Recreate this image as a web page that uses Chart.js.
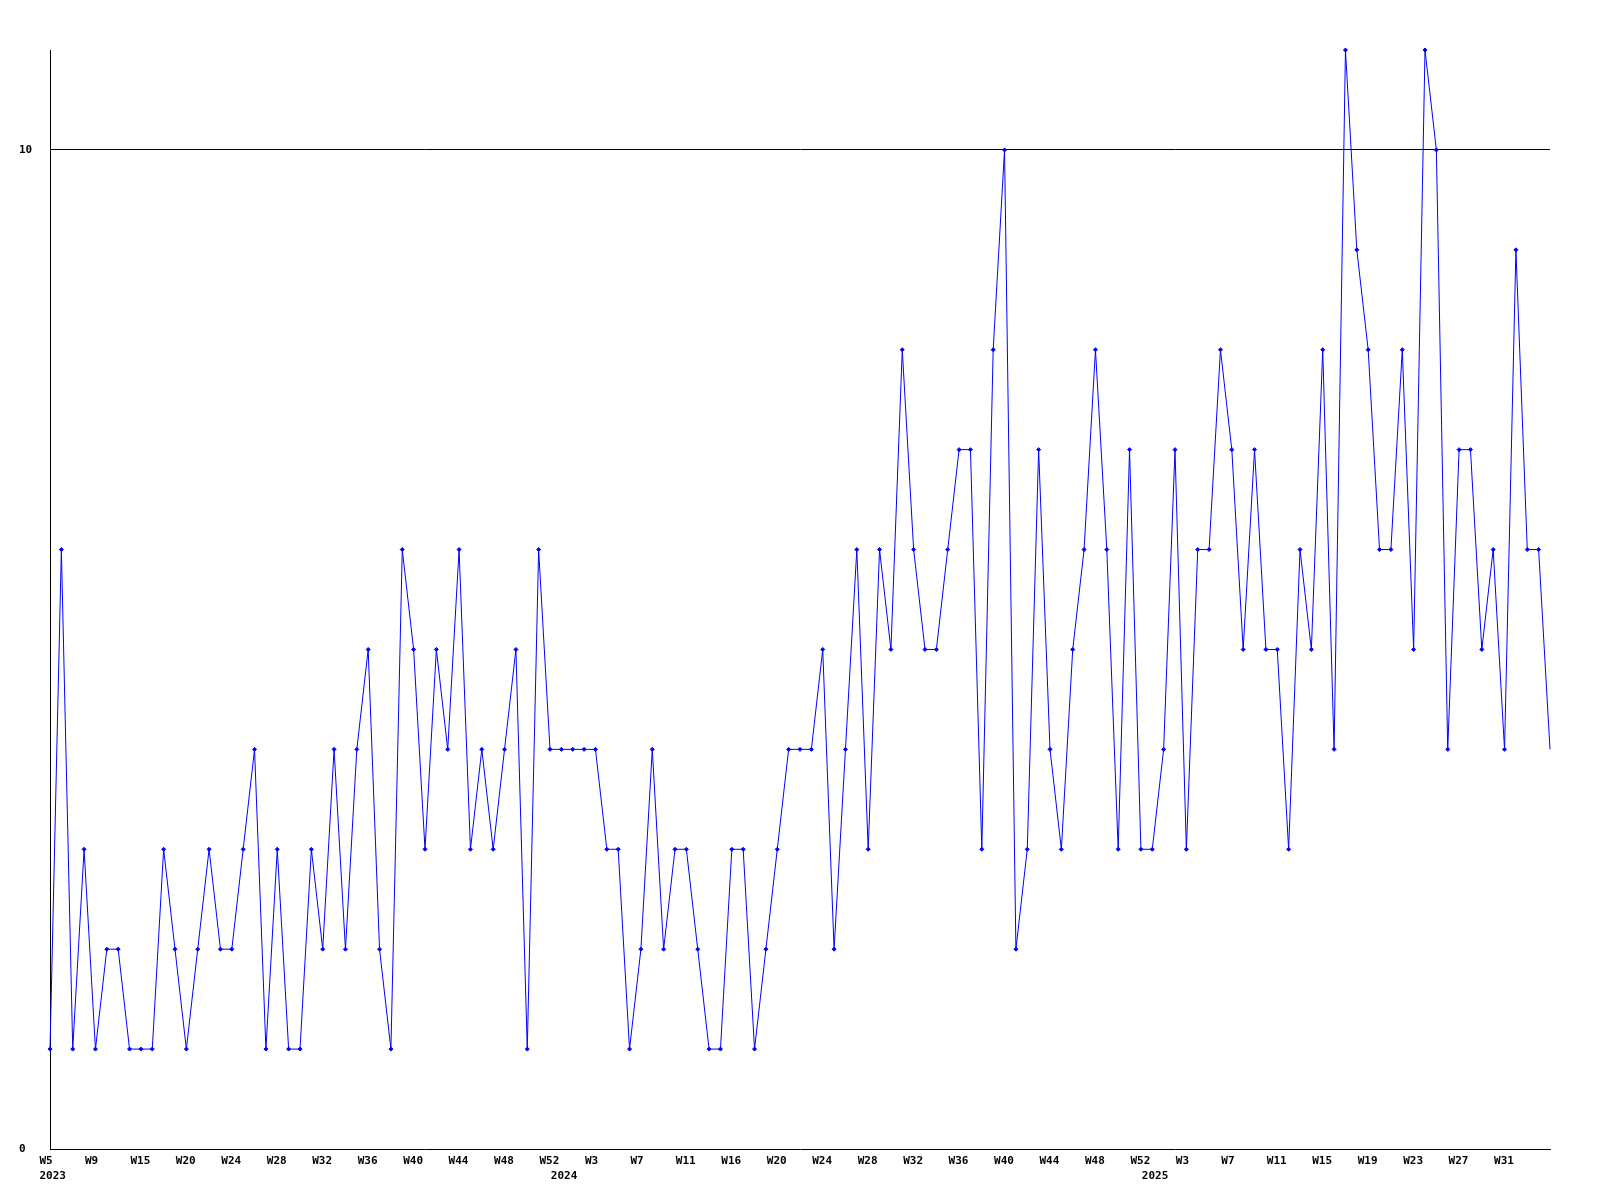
<!DOCTYPE html>
<html>
<head>
<meta charset="utf-8">
<script src="https://cdn.jsdelivr.net/npm/chart.js@4/dist/chart.umd.min.js"></script>
<style>
  html, body { margin: 0; padding: 0; background: #fff; }
  #wrap { width: 1600px; height: 1200px; }
</style>
</head>
<body>
<div id="wrap"><canvas id="chart" width="1600" height="1200"></canvas></div>
<script>
// One value per weekly sample, 2023 W5 onward (133 samples).
const values = [
  1, 6, 1, 3, 1, 2, 2, 1, 1, 1,
  3, 2, 1, 2, 3, 2, 2, 3, 4, 1,
  3, 1, 1, 3, 2, 4, 2, 4, 5, 2,
  1, 6, 5, 3, 5, 4, 6, 3, 4, 3,
  4, 5, 1, 6, 4, 4, 4, 4, 4, 3,
  3, 1, 2, 4, 2, 3, 3, 2, 1, 1,
  3, 3, 1, 2, 3, 4, 4, 4, 5, 2,
  4, 6, 3, 6, 5, 8, 6, 5, 5, 6,
  7, 7, 3, 8, 10, 2, 3, 7, 4, 3,
  5, 6, 8, 6, 3, 7, 3, 3, 4, 7,
  3, 6, 6, 8, 7, 5, 7, 5, 5, 3,
  6, 5, 8, 4, 11, 9, 8, 6, 6, 8,
  5, 11, 10, 4, 7, 7, 5, 6, 4, 9,
  6, 6, 4,
];

// Week labels, one every TICK_EVERY samples.
const TICK_EVERY = 4;
const weekTicks = [
  "W5", "W9", "W15", "W20", "W24", "W28", "W32", "W36", "W40", "W44", "W48", "W52",
  "W3", "W7", "W11", "W16", "W20", "W24", "W28", "W32", "W36", "W40", "W44", "W48", "W52",
  "W3", "W7", "W11", "W15", "W19", "W23", "W27", "W31",
];
// Year labels and the sample they sit under.
const yearLabels = ["2023", "2024", "2025"];
const yearAt = [0, 45, 97];

const yTicks = [0, 10];

const categories = values.map((_, i) => String(i));
const FONT = { family: "'DejaVu Sans Mono', 'Liberation Mono', monospace", size: 11, weight: "bold", lineHeight: 1.33 };

new Chart(document.getElementById("chart"), {
  type: "line",
  data: {
    labels: categories,
    datasets: [{
      data: values,
      borderColor: "#0000ff",
      backgroundColor: "#0000ff",
      borderWidth: 1,
      tension: 0,
      pointStyle: "rectRot",
      pointRadius: (c) => (c.dataIndex === values.length - 1 ? 0 : 2),
      pointBorderWidth: 1,
      pointBorderColor: "#0000ff",
      pointBackgroundColor: "#0000ff",
      clip: false,
    }],
  },
  options: {
    responsive: false,
    animation: false,
    events: [],
    layout: { padding: { left: 19, top: 50, right: 50, bottom: 0 } },
    plugins: { legend: { display: false }, tooltip: { enabled: false } },
    scales: {
      x: {
        type: "category",
        offset: false,
        grid: { display: false, drawTicks: false },
        border: { display: true, color: "#000", width: 1 },
        afterFit: (s) => { s.height = 51; },
        ticks: {
          autoSkip: false,
          maxRotation: 0,
          minRotation: 0,
          align: "start",
          labelOffset: -10.5,
          padding: 5,
          color: "#000",
          font: FONT,
          callback: (v, i) => {
            const w = i % TICK_EVERY === 0 ? (weekTicks[i / TICK_EVERY] || "") : "";
            const y = yearAt.indexOf(i);
            return y >= 0 ? [w, yearLabels[y]] : w;
          },
        },
      },
      y: {
        min: 0,
        max: 11,
        afterBuildTicks: (s) => { s.ticks = yTicks.map((v) => ({ value: v })); },
        afterFit: (s) => { s.width = 31; },
        grid: {
          drawTicks: false,
          color: (c) => (c.tick && c.tick.value === 10 ? "#000" : "rgba(0,0,0,0)"),
          lineWidth: 1,
        },
        border: { display: true, color: "#000", width: 1 },
        ticks: {
          crossAlign: "far",
          padding: 0,
          color: "#000",
          font: FONT,
        },
      },
    },
  },
});
</script>
</body>
</html>
